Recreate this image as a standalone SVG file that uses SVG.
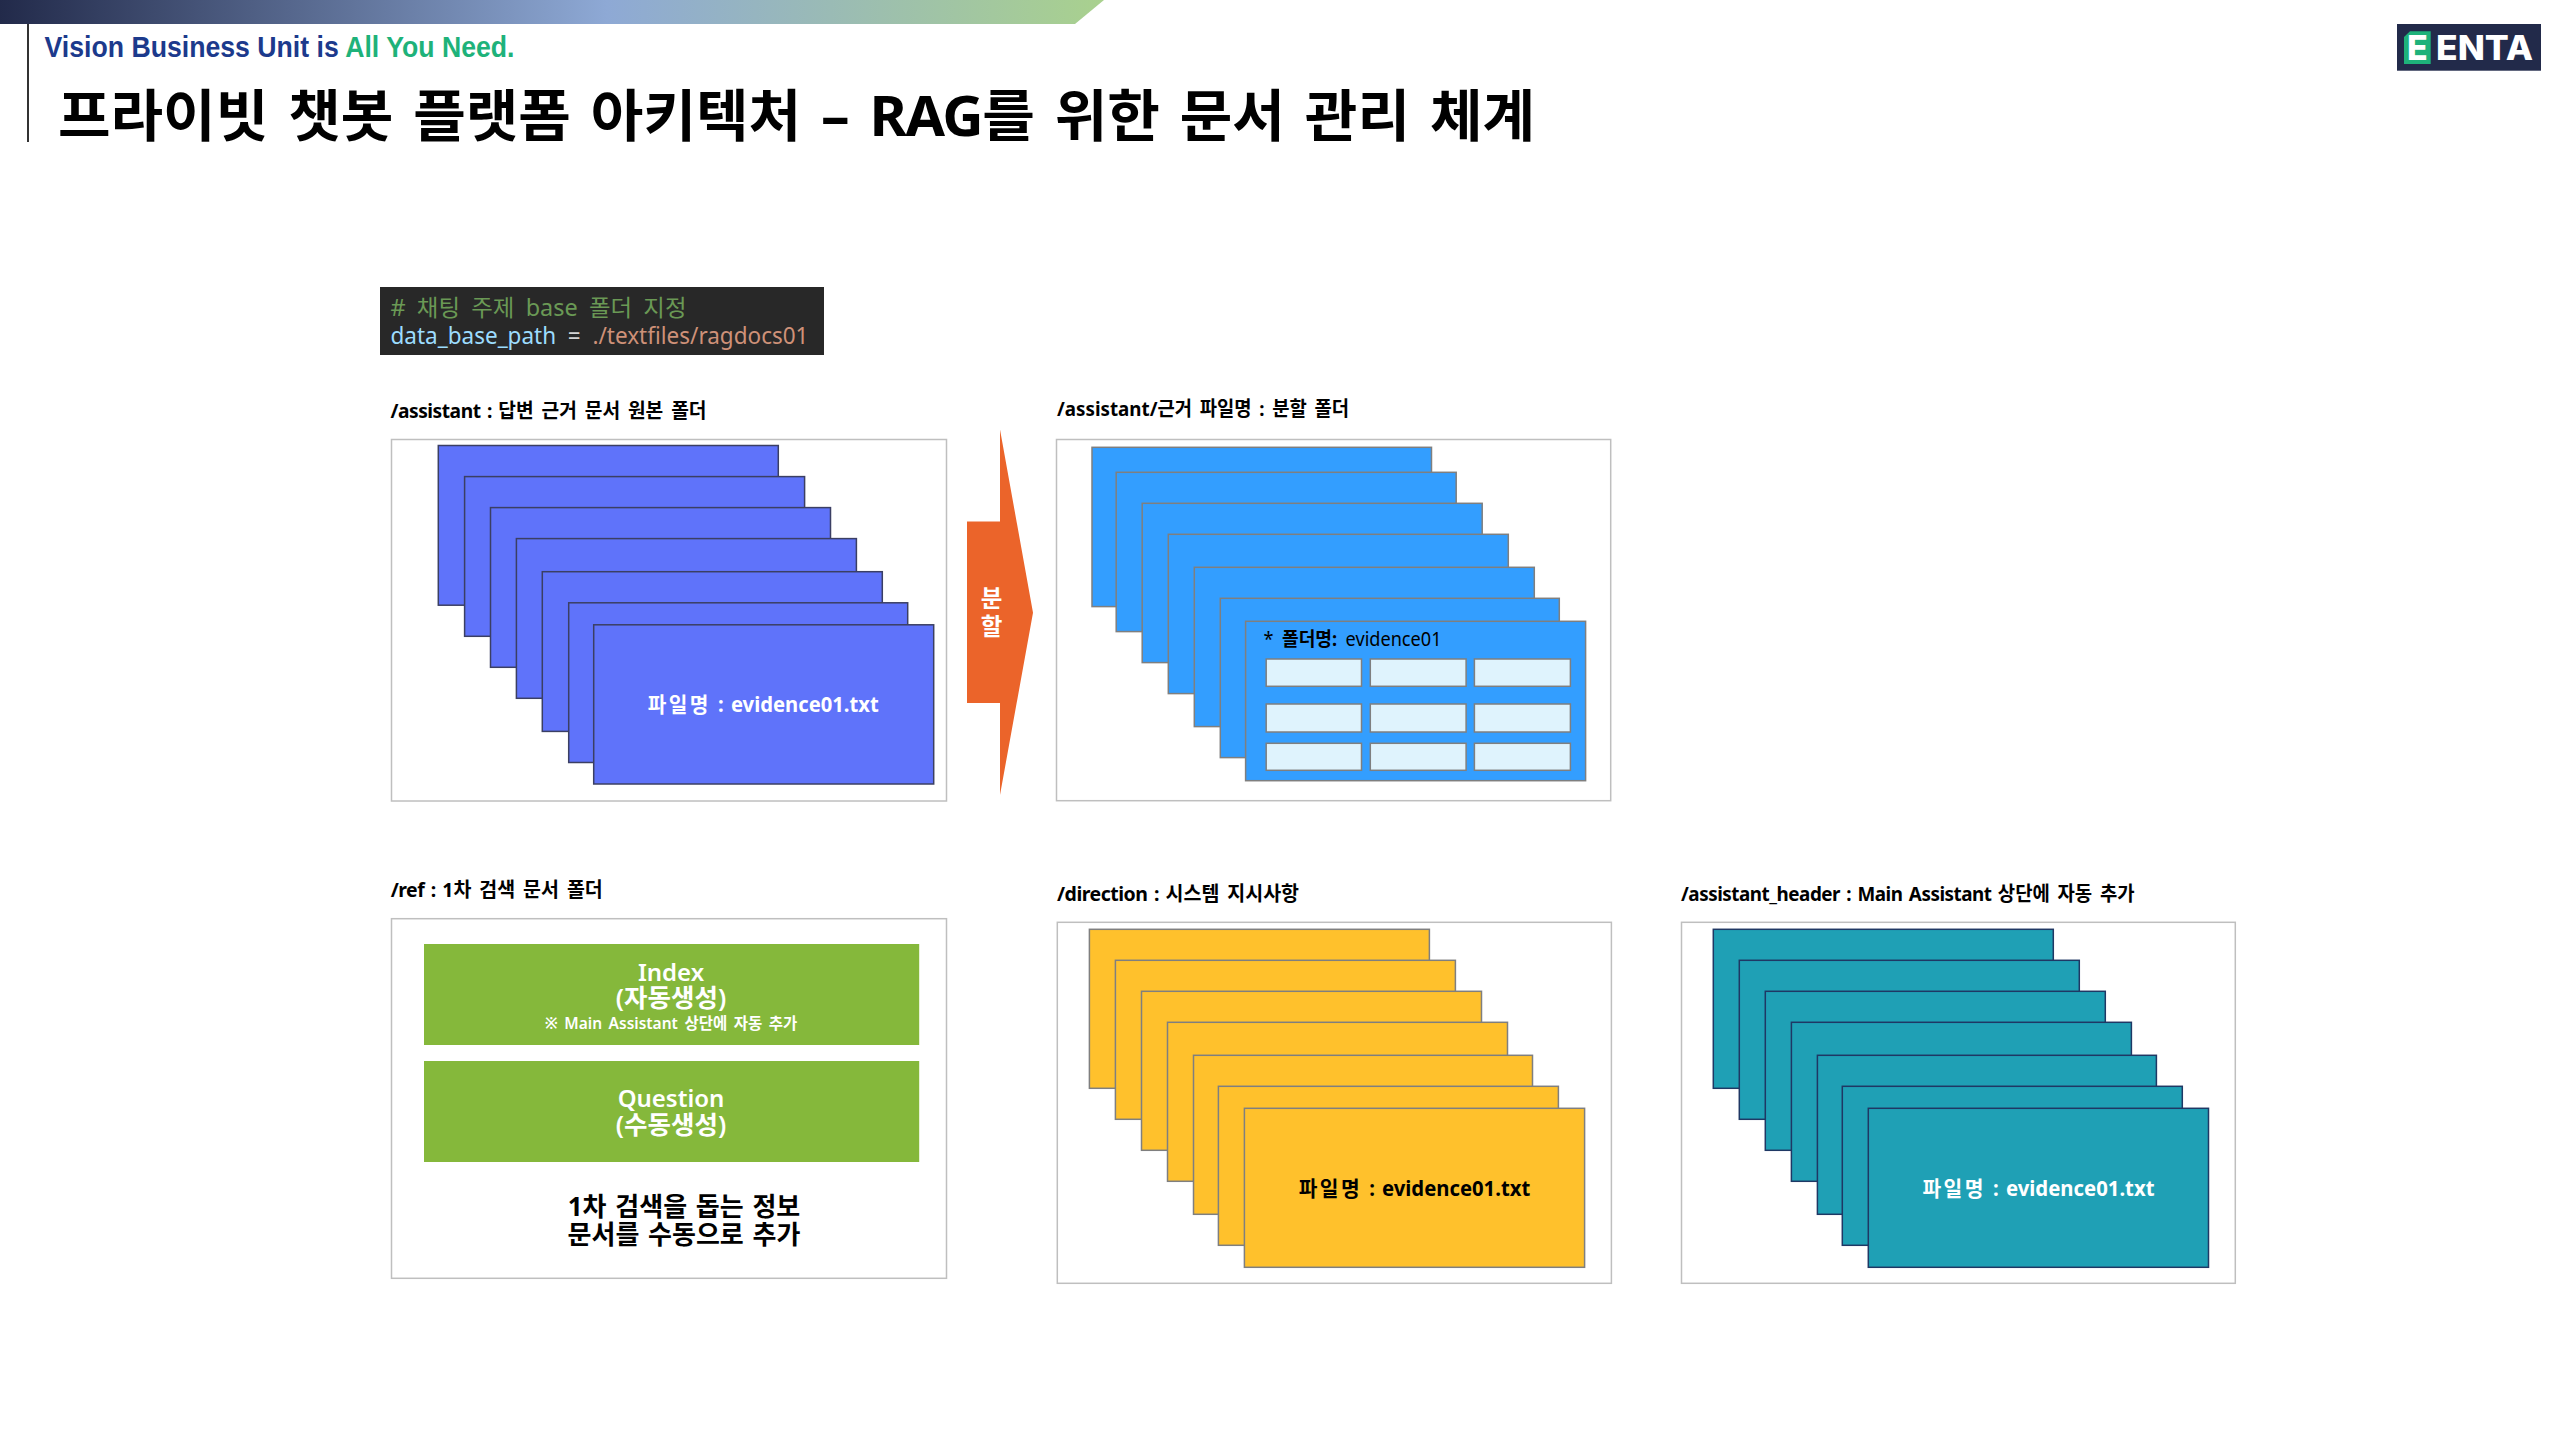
<svg xmlns="http://www.w3.org/2000/svg" width="2560" height="1440" viewBox="0 0 2560 1440">
<defs>
<linearGradient id="bar" x1="0" y1="0" x2="1" y2="0"><stop offset="0" stop-color="#222a4a"/><stop offset="0.55" stop-color="#8ea9d5"/><stop offset="1" stop-color="#a9d18e"/></linearGradient>
</defs>
<style>
text{font-family:"Noto Sans","Noto Sans CJK KR",sans-serif}
.frame{fill:#fff;stroke:#bfbfbf;stroke-width:1.5}
.lbl{font-size:20px;font-weight:700;fill:#000;word-spacing:3px}
.lat{letter-spacing:-.5px;word-spacing:2px}
.blue{fill:#5f73fa;stroke:#3b3f63;stroke-width:1.5}
.sky{fill:#339eff;stroke:#7f7f7f;stroke-width:1.5}
.cell{fill:#dff3fd;stroke:#7f7f7f;stroke-width:1.5}
.yellow{fill:#ffc12c;stroke:#7f7f7f;stroke-width:1.5}
.teal{fill:#1fa0b5;stroke:#1f3864;stroke-width:1.5}
.green{fill:#85b83b}
.file{font-size:21px;font-weight:700;word-spacing:2px}
.file tspan{letter-spacing:2.5px}
.w{fill:#fff;text-anchor:middle}
.hg{font-size:25.5px}
.note{font-size:15.5px;font-weight:600;word-spacing:2.5px}
.big{font-size:26px;font-weight:700;fill:#000;text-anchor:middle;word-spacing:2px}
</style>
<rect width="2560" height="1440" fill="#fff"/>
<g id="header">
<polygon points="0,0 1104,0 1075,24 0,24" fill="url(#bar)"/>
<line x1="28" y1="24" x2="28" y2="142" stroke="#333" stroke-width="2"/>
<text x="44.5" y="57" font-size="29" font-weight="700" style="font-family:'Liberation Sans',sans-serif" textLength="470" lengthAdjust="spacingAndGlyphs" fill="#1c3a8c">Vision Business Unit is <tspan fill="#1eb27a">All You Need.</tspan></text>
<text x="58" y="136" font-size="56" font-weight="700" fill="#000" word-spacing="5" textLength="1477" lengthAdjust="spacingAndGlyphs">프라이빗 챗봇 플랫폼 아키텍처 – <tspan letter-spacing="-1.5">RAG</tspan>를 위한 문서 관리 체계</text>
</g>
<g id="logo">
<rect x="2397" y="24" width="144" height="46.7" fill="#222a4a"/>
<polygon points="2410,31.3 2430.7,31.3 2430.7,64 2404,64 2404,37" fill="#1eb27a"/>
<text x="2417.3" y="60" font-size="34" font-weight="800" fill="#fff" text-anchor="middle" style="font-family:Inter,sans-serif">E</text>
<text x="2436" y="60" font-size="34" font-weight="800" fill="#fff" textLength="97" lengthAdjust="spacingAndGlyphs" style="font-family:Inter,sans-serif">ENTA</text>
</g>
<g id="code">
<rect x="380" y="287" width="444" height="68" fill="#282828"/>
<text x="390.5" y="315.5" font-size="23" fill="#6a9955" word-spacing="5" textLength="296" lengthAdjust="spacingAndGlyphs"># 채팅 주제 base 폴더 지정</text>
<text x="390.5" y="344" font-size="23" fill="#9cdcfe" word-spacing="6" textLength="418" lengthAdjust="spacingAndGlyphs">data_base_path <tspan fill="#d4d4d4">= </tspan><tspan fill="#ce9178">./textfiles/ragdocs01</tspan></text>
</g>
<g id="assistant">
<text class="lbl" x="390.5" y="418" textLength="316" lengthAdjust="spacingAndGlyphs"><tspan class="lat">/assistant : </tspan>답변 근거 문서 원본 폴더</text>
<rect class="frame" x="391.5" y="439.5" width="555" height="361.5"/>
<rect class="blue" x="438.3" y="445.5" width="340" height="159.7"/>
<rect class="blue" x="464.6" y="476.6" width="340" height="159.7"/>
<rect class="blue" x="490.5" y="507.6" width="340" height="159.7"/>
<rect class="blue" x="516.4" y="538.6" width="340" height="159.7"/>
<rect class="blue" x="542.3" y="571.7" width="340" height="159.7"/>
<rect class="blue" x="568.7" y="602.8" width="339" height="159.7"/>
<rect class="blue" x="593.7" y="624.8" width="340" height="159.2"/>
<text class="file w" x="763.3" y="712" textLength="231" lengthAdjust="spacingAndGlyphs"><tspan>파일명</tspan> : evidence01.txt</text>
</g>
<g id="connectors">
<polygon points="967,521.4 1000,521.4 1000,429.5 1033,612.8 1000,795 1000,703 967,703" fill="#eb642a"/>
<text class="w" x="991.5" y="607" font-size="23.5" font-weight="700">분</text>
<text class="w" x="991.5" y="635" font-size="23.5" font-weight="700">할</text>
</g>
<g id="assistant-split">
<text class="lbl" x="1057" y="416" textLength="292" lengthAdjust="spacingAndGlyphs">/assistant/근거 파일명 : 분할 폴더</text>
<rect class="frame" x="1056.5" y="439.5" width="554.2" height="361.2"/>
<rect class="sky" x="1092" y="447.3" width="339.5" height="159.3"/>
<rect class="sky" x="1116.2" y="472.3" width="340" height="159.3"/>
<rect class="sky" x="1142.2" y="503.3" width="340" height="159.3"/>
<rect class="sky" x="1168.3" y="534.3" width="340" height="159.3"/>
<rect class="sky" x="1194.3" y="567.3" width="340" height="159.3"/>
<rect class="sky" x="1220.3" y="598.3" width="339" height="159.3"/>
<rect class="sky" x="1245.6" y="621.3" width="340" height="159.4"/>
<text x="1263.5" y="646" font-size="19" fill="#000" word-spacing="4" textLength="178" lengthAdjust="spacingAndGlyphs">* <tspan font-weight="700">폴더명:</tspan> evidence01</text>
<rect class="cell" x="1266.2" y="659" width="95.3" height="27.3"/><rect class="cell" x="1370.3" y="659" width="95.8" height="27.3"/><rect class="cell" x="1474.4" y="659" width="96" height="27.3"/>
<rect class="cell" x="1266.2" y="704" width="95.3" height="28"/><rect class="cell" x="1370.3" y="704" width="95.8" height="28"/><rect class="cell" x="1474.4" y="704" width="96" height="28"/>
<rect class="cell" x="1266.2" y="743.3" width="95.3" height="27"/><rect class="cell" x="1370.3" y="743.3" width="95.8" height="27"/><rect class="cell" x="1474.4" y="743.3" width="96" height="27"/>
</g>
<g id="ref">
<text class="lbl" x="390.7" y="896.7" textLength="212" lengthAdjust="spacingAndGlyphs"><tspan class="lat">/ref : </tspan>1차 검색 문서 폴더</text>
<rect class="frame" x="391.5" y="918.7" width="555" height="359.6"/>
<rect class="green" x="424" y="944" width="495.2" height="101"/>
<rect class="green" x="424" y="1061" width="495.2" height="101"/>
<text class="w" font-size="24" font-weight="600"><tspan x="671" y="980.7">Index</tspan><tspan class="hg" x="671" y="1007">(자동생성)</tspan><tspan class="note" x="671" y="1029">※ Main Assistant 상단에 자동 추가</tspan></text>
<text class="w" font-size="24" font-weight="600"><tspan x="671" y="1107">Question</tspan><tspan class="hg" x="671" y="1134">(수동생성)</tspan></text>
<text class="big"><tspan x="684" y="1216">1차 검색을 돕는 정보</tspan><tspan x="684" y="1244">문서를 수동으로 추가</tspan></text>
</g>
<g id="direction">
<text class="lbl" x="1057" y="900.7" textLength="242" lengthAdjust="spacingAndGlyphs"><tspan class="lat">/direction : </tspan>시스템 지시사항</text>
<rect class="frame" x="1057.3" y="922.3" width="554.1" height="361"/>
<rect class="yellow" x="1089.4" y="929.3" width="340" height="159"/>
<rect class="yellow" x="1115.4" y="960.3" width="340" height="159"/>
<rect class="yellow" x="1141.5" y="991.3" width="340" height="159"/>
<rect class="yellow" x="1167.5" y="1022.3" width="340" height="159"/>
<rect class="yellow" x="1193.5" y="1055.3" width="339" height="159"/>
<rect class="yellow" x="1218.4" y="1086.3" width="340" height="159"/>
<rect class="yellow" x="1244.4" y="1108.3" width="340.2" height="159"/>
<text class="file" x="1414.5" y="1196" fill="#000" text-anchor="middle" textLength="231.5" lengthAdjust="spacingAndGlyphs"><tspan>파일명</tspan> : evidence01.txt</text>
</g>
<g id="assistant-header">
<text class="lbl" x="1681" y="900.7" textLength="453.6" lengthAdjust="spacingAndGlyphs"><tspan class="lat">/assistant_header : Main Assistant </tspan>상단에 자동 추가</text>
<rect class="frame" x="1681.5" y="922.3" width="553.8" height="361"/>
<rect class="teal" x="1713.3" y="929.3" width="340" height="159"/>
<rect class="teal" x="1739.3" y="960.3" width="340" height="159"/>
<rect class="teal" x="1765.3" y="991.3" width="340" height="159"/>
<rect class="teal" x="1791.4" y="1022.3" width="340" height="159"/>
<rect class="teal" x="1817.4" y="1055.3" width="339" height="159"/>
<rect class="teal" x="1842.3" y="1086.3" width="340" height="159"/>
<rect class="teal" x="1868.3" y="1108.3" width="340.2" height="159"/>
<text class="file w" x="2038.5" y="1196" textLength="232" lengthAdjust="spacingAndGlyphs"><tspan>파일명</tspan> : evidence01.txt</text>
</g>
</svg>
